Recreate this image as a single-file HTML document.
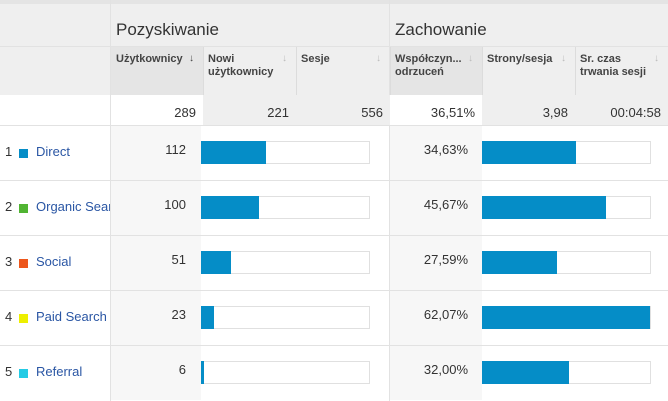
<!DOCTYPE html>
<html><head><meta charset="utf-8"><style>
*{box-sizing:border-box;margin:0;padding:0}
body{width:668px;height:401px;overflow:hidden;background:#fff;font-family:"Liberation Sans",Arial,sans-serif;position:relative}
.a{position:absolute}
.gt{font-size:17px;color:#333}
.hd{font-size:11px;font-weight:bold;color:#444;line-height:13px}
.ar{font-size:10px;color:#bbb}
.num{font-size:13px;color:#333;text-align:right}
.lab{font-size:13px;color:#2a56a4}
</style></head><body>
<div class="a" style="left:0;top:0;width:668px;height:95px;background:#efefef"></div>
<div class="a" style="left:0;top:0;width:668px;height:4px;background:#e4e4e4"></div>
<div class="a" style="left:110px;top:0;width:1px;height:401px;background:#e2e2e2"></div>
<div class="a" style="left:389px;top:0;width:1px;height:401px;background:#e2e2e2"></div>
<div class="a gt" style="left:116px;top:20px">Pozyskiwanie</div>
<div class="a gt" style="left:395px;top:20px">Zachowanie</div>
<div class="a" style="left:0;top:46px;width:668px;height:1px;background:#e2e2e2"></div>
<div class="a" style="left:111px;top:47px;width:92px;height:48px;background:#e5e5e5"></div>
<div class="a" style="left:390px;top:47px;width:92px;height:48px;background:#e5e5e5"></div>
<div id="cols"></div>
<div id="rows"></div>
<script>
const headers=["Użytkownicy","Nowi<br>użytkownicy","Sesje","Współczyn...<br>odrzuceń","Strony/sesja","Sr. czas<br>trwania sesji"];
const totals=["289","221","556","36,51%","3,98","00:04:58"];
const categories=["Direct","Organic Sear","Social","Paid Search","Referral"];
const colors=["#058dc7","#50b432","#ed561b","#edef00","#24cbe5"];
const users=[112,100,51,23,6];
const bounce=[34.63,45.67,27.59,62.07,32.00];
const usersMax=289, bounceMax=62.07;
const colX=[111,203,296,390,482,575], colW=[92,93,94,92,93,93];
const C=document.getElementById('cols');
headers.forEach((h,i)=>{
 const d=document.createElement('div');d.className='a hd';
 d.style.cssText=`left:${colX[i]+5}px;top:53px;width:${colW[i]-22}px`;
 d.innerHTML=h;
 
 
 C.appendChild(d);
 const ar=document.createElement('div');ar.className='a ar';
 ar.style.cssText=`left:${colX[i]+colW[i]-14}px;top:53px;`+(i==0?'color:#444;font-weight:bold':'');
 ar.textContent='↓';
 
 
 C.appendChild(ar);
 if(i>0){const s=document.createElement('div');s.className='a';s.style.cssText=`left:${colX[i]}px;top:47px;width:1px;height:78px;background:#dcdcdc`;C.appendChild(s);}
 const t=document.createElement('div');t.className='a num';
 t.style.cssText=`left:${colX[i]}px;top:95px;width:${colW[i]}px;height:30px;padding:10px 7px 0 0;background:${i==0||i==3?'#fff':'#efefef'}`;
 t.textContent=totals[i];
 
 
 C.appendChild(t);
});
const R=document.getElementById('rows');
const fmt=v=>v.toFixed(2).replace('.',',')+'%';
categories.forEach((c,i)=>{
 const y=125+i*55;
 const line=document.createElement('div');line.className='a';line.style.cssText=`left:0;top:${y}px;width:668px;height:1px;background:#e2e2e2`;R.appendChild(line);
 const g1=document.createElement('div');g1.className='a';g1.style.cssText=`left:111px;top:${y+1}px;width:90px;height:54px;background:#f7f7f7`;R.appendChild(g1);
 const g2=document.createElement('div');g2.className='a';g2.style.cssText=`left:390px;top:${y+1}px;width:92px;height:54px;background:#f7f7f7`;R.appendChild(g2);
 const n=document.createElement('div');n.className='a';n.style.cssText=`left:5px;top:${y+19}px;font-size:13px;color:#333`;n.textContent=i+1;R.appendChild(n);
 const sw=document.createElement('div');sw.className='a';sw.style.cssText=`left:19px;top:${y+24}px;width:9px;height:9px;background:${colors[i]}`;
 
 
 R.appendChild(sw);
 const l=document.createElement('div');l.className='a lab';l.style.cssText=`left:36px;top:${y+19}px;width:74px;overflow:hidden;white-space:nowrap`;l.textContent=c;
 
 
 R.appendChild(l);
 const uv=document.createElement('div');uv.className='a num';uv.style.cssText=`left:111px;top:${y+17}px;width:75px`;uv.textContent=users[i];
 
 
 R.appendChild(uv);
 const bv=document.createElement('div');bv.className='a num';bv.style.cssText=`left:390px;top:${y+17}px;width:78px`;bv.textContent=fmt(bounce[i]);
 
 
 R.appendChild(bv);
 [[201,users[i]/usersMax],[482,bounce[i]/bounceMax]].forEach(([x,f],k)=>{
  const box=document.createElement('div');box.className='a';box.style.cssText=`left:${x}px;top:${y+16}px;width:169px;height:23px;border:1px solid #e0e0e0;background:#fff`;R.appendChild(box);
  const b=document.createElement('div');b.className='a';b.style.cssText=`left:${x}px;top:${y+16}px;width:${f*168}px;height:23px;background:#058dc7`;
  
  
  R.appendChild(b);
 });
});
</script>
</body></html>
